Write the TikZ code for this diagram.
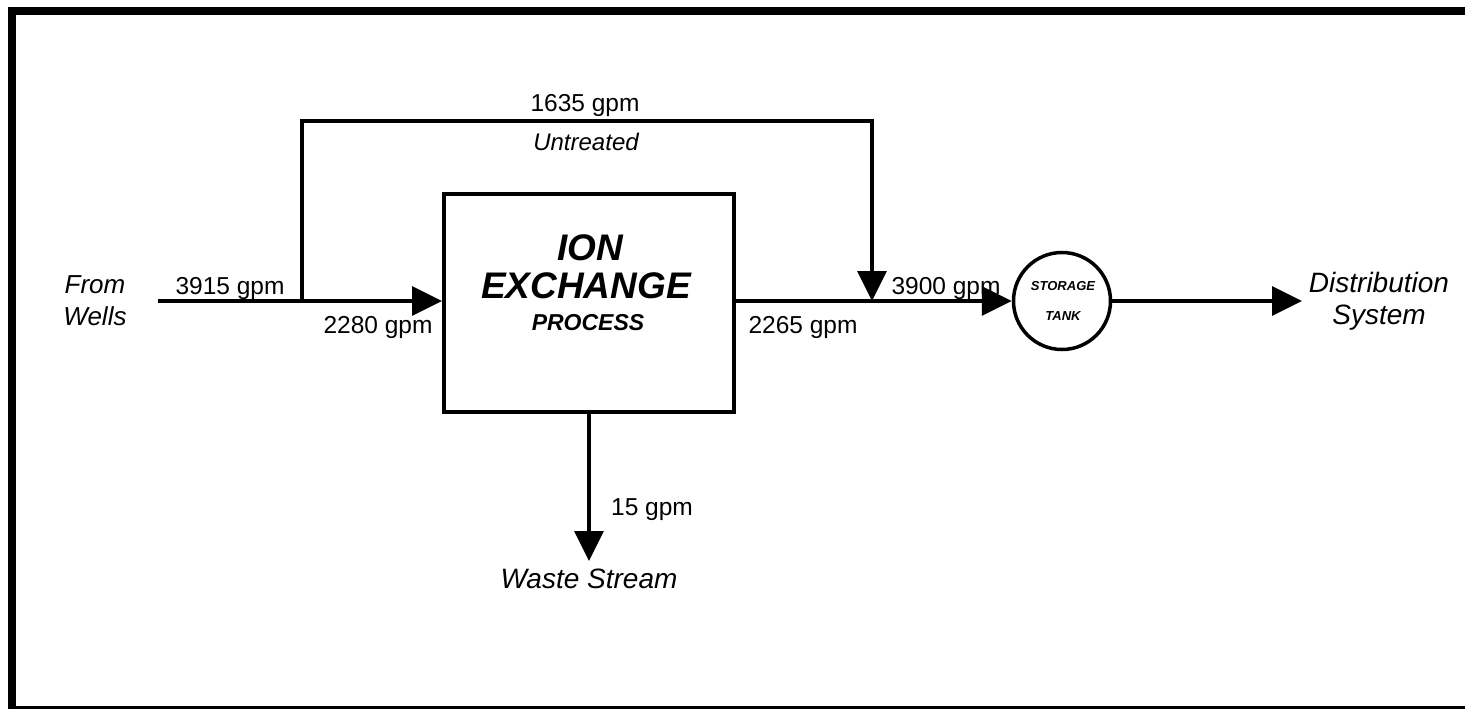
\documentclass[tikz,border=0pt]{standalone}
\usepackage{fontspec}
\setmainfont{Liberation Sans}
\usetikzlibrary{arrows.meta}
\begin{document}
\begin{tikzpicture}[x=1pt,y=-1pt,
  flow/.style={line width=3.5pt, line join=miter, -{Triangle[length=30pt,width=29pt]}},
  pipe/.style={line width=3.5pt},
  lbl/.style={font=\fontsize{24.5}{28}\selectfont, inner sep=0pt},
  ital/.style={font=\fontsize{27}{32}\selectfont\itshape, align=center, inner sep=0pt},
  big/.style={font=\fontsize{37}{40}\selectfont\bfseries\itshape, inner sep=0pt},
  small/.style={font=\fontsize{13}{16}\selectfont\bfseries\itshape, inner sep=0pt},
]
\useasboundingbox (0,0) rectangle (1465,709);
% frame
\draw[line width=8pt] (1465,11) -- (12,11) -- (12,709);
\draw[line width=3pt] (12,707.5) -- (1465,707.5);

% main nodes
\node[draw, line width=4pt, minimum width=290pt, minimum height=218pt, inner sep=0pt] (ix) at (589,303) {};
\node[big] (ion) at (590,248) {ION};
\node[big] (exch) at (586,286) {EXCHANGE};
\node[font=\fontsize{23}{24}\selectfont\bfseries\itshape, inner sep=0pt] (proc) at (588,323) {PROCESS};

\node[draw, circle, line width=3.5pt, minimum size=97pt, inner sep=0pt] (tank) at (1062,301) {};
\node[small] (stor) at (1063,286) {STORAGE};
\node[small] (tk) at (1063,316) {TANK};

\node[ital, font=\fontsize{26}{32}\selectfont\itshape] (wells) at (95,301) {From\\Wells};
\node[ital, font=\fontsize{28}{32}\selectfont\itshape] (dist) at (1379,301) {Distribution\\System};
\node[ital, font=\fontsize{28}{30}\selectfont\itshape] (wst) at (589,579) {Waste Stream};

% junction coordinates
\coordinate (src) at (158,301);
\coordinate (br) at (302,301);
\coordinate (tl) at (302,121);
\coordinate (tr) at (872,121);
\coordinate (mg) at (872,301);
\coordinate (dst) at (1302,301);
\coordinate (waste) at (589,561);

% connectors
\draw[pipe] (src) -- (br);
\draw[flow] (br) -- (br -| ix.west);
\draw[flow] (br) -- (tl) -- (tr) -- (mg);
\draw[pipe] (mg -| ix.east) -- (mg);
\draw[flow] (mg) -- (tank.west);
\draw[flow] (tank.east) -- (dst);
\draw[flow] (ix.south) -- (waste);

% flow labels
\node[lbl] (l3915) at (230,288) {3915 gpm};
\node[lbl] (l2280) at (378,327) {2280 gpm};
\node[lbl] (l1635) at (585,105) {1635 gpm};
\node[ital, font=\fontsize{24}{26}\selectfont\itshape] (untr) at (586,142) {Untreated};
\node[lbl] (l2265) at (803,327) {2265 gpm};
\node[lbl] (l3900) at (946,288) {3900 gpm};
\node[lbl] (l15) at (652,510) {15 gpm};
\end{tikzpicture}
\end{document}
